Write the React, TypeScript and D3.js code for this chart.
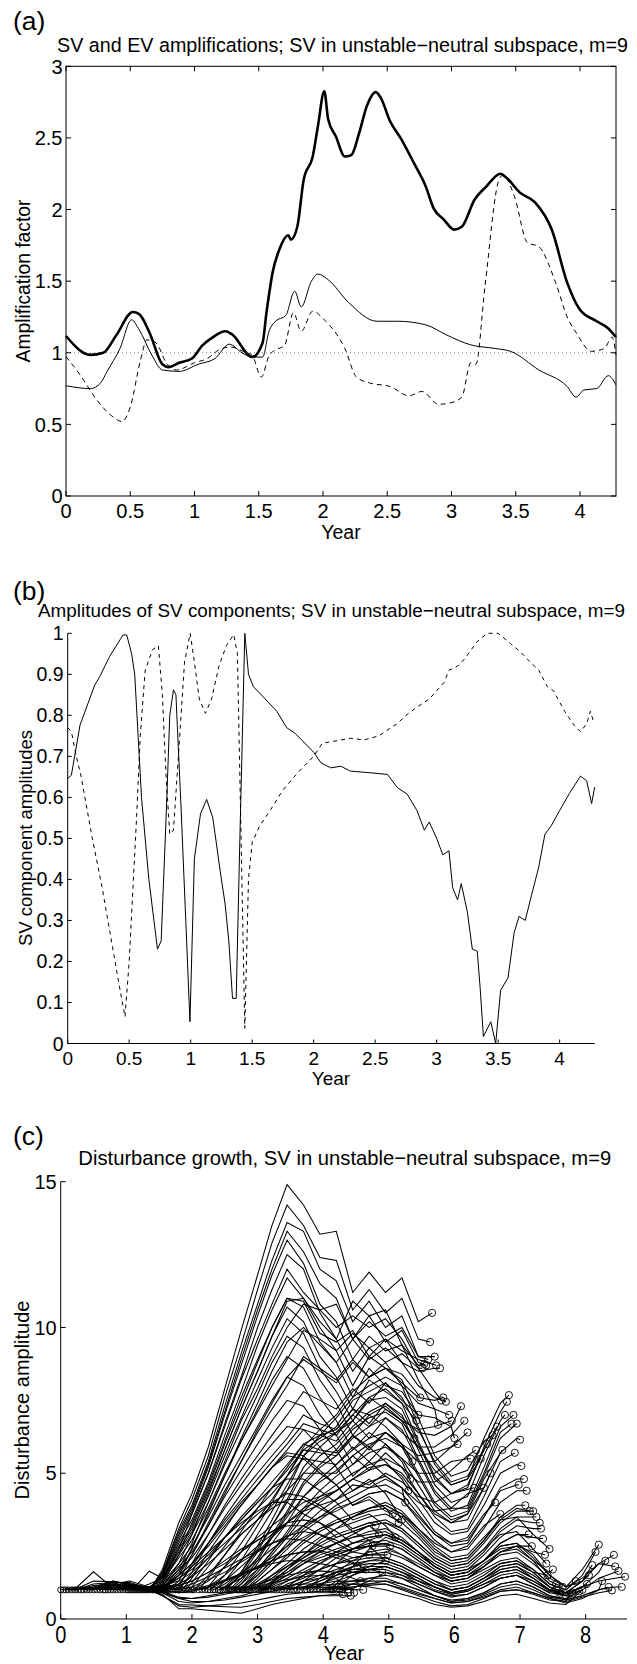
import React from 'react';
import * as d3 from 'd3';

const FONT = '"Liberation Sans", Arial, Helvetica, sans-serif';

// ---------------- Panel (a): amplification factors ----------------
const aSvX = [0, 0.19, 0.29, 0.39, 0.52, 0.57, 0.65, 0.75, 0.8, 0.88, 0.98, 1.06, 1.13, 1.24, 1.29, 1.45, 1.53, 1.56, 1.61, 1.66, 1.73, 1.75, 1.8, 1.85, 1.92, 1.96, 2.01, 2.04, 2.1, 2.17, 2.22, 2.28, 2.34, 2.41, 2.45, 2.52, 2.61, 2.71, 2.8, 2.86, 2.94, 3.02, 3.08, 3.18, 3.27, 3.38, 3.43, 3.53, 3.65, 3.78, 3.9, 4.0, 4.13, 4.22, 4.28];
const aSvY = [1.117, 0.985, 1.0, 1.12, 1.285, 1.27, 1.14, 0.92, 0.9, 0.93, 0.96, 1.05, 1.1, 1.15, 1.13, 0.97, 1.07, 1.28, 1.57, 1.72, 1.82, 1.79, 1.88, 2.21, 2.37, 2.58, 2.825, 2.63, 2.51, 2.37, 2.38, 2.53, 2.72, 2.82, 2.78, 2.62, 2.49, 2.32, 2.16, 2.01, 1.93, 1.86, 1.88, 2.07, 2.16, 2.25, 2.22, 2.12, 2.05, 1.86, 1.49, 1.3, 1.22, 1.17, 1.11];
const aEvX = [0, 0.19, 0.27, 0.32, 0.42, 0.51, 0.57, 0.67, 0.75, 0.88, 1.03, 1.16, 1.27, 1.37, 1.45, 1.53, 1.58, 1.63, 1.71, 1.78, 1.83, 1.91, 1.96, 2.04, 2.2, 2.42, 2.58, 2.8, 2.96, 3.15, 3.34, 3.46, 3.68, 3.9, 3.97, 4.03, 4.13, 4.22, 4.28];
const aEvY = [0.77, 0.75, 0.79, 0.87, 1.03, 1.23, 1.16, 0.98, 0.88, 0.87, 0.92, 0.96, 1.06, 1.0, 0.97, 0.97, 1.15, 1.22, 1.26, 1.43, 1.32, 1.5, 1.55, 1.51, 1.35, 1.22, 1.22, 1.195, 1.125, 1.055, 1.03, 1.01, 0.88, 0.764, 0.69, 0.74, 0.75, 0.84, 0.776];
const aDashX = [0, 0.11, 0.24, 0.37, 0.434, 0.5, 0.58, 0.63, 0.7, 0.78, 0.86, 1.0, 1.1, 1.19, 1.28, 1.38, 1.45, 1.52, 1.58, 1.63, 1.7, 1.77, 1.83, 1.92, 2.01, 2.17, 2.26, 2.36, 2.52, 2.67, 2.77, 2.9, 2.99, 3.08, 3.15, 3.19, 3.26, 3.37, 3.4, 3.49, 3.59, 3.68, 3.81, 3.9, 3.97, 4.09, 4.19, 4.25, 4.28];
const aDashY = [0.973, 0.845, 0.67, 0.55, 0.52, 0.62, 0.95, 1.09, 1.07, 0.93, 0.88, 0.93, 0.96, 1.02, 1.04, 1.01, 0.98, 0.83, 0.98, 1.02, 1.05, 1.28, 1.15, 1.29, 1.23, 1.03, 0.83, 0.79, 0.765, 0.7, 0.73, 0.64, 0.65, 0.69, 0.93, 0.92, 1.46, 2.21, 2.24, 2.09, 1.77, 1.74, 1.49, 1.25, 1.14, 1.01, 1.03, 1.11, 0.985];
const aXTicks = [0, 0.5, 1, 1.5, 2, 2.5, 3, 3.5, 4];
const aXLabels = ['0', '0.5', '1', '1.5', '2', '2.5', '3', '3.5', '4'];
const aYTicks = [0, 0.5, 1, 1.5, 2, 2.5, 3];
const aYLabels = ['0', '0.5', '1', '1.5', '2', '2.5', '3'];

// ---------------- Panel (b): SV component amplitudes ----------------
const bSolidX = [0, 0.03, 0.1, 0.22, 0.26, 0.34, 0.45, 0.48, 0.52, 0.545, 0.6, 0.66, 0.73, 0.76, 0.8, 0.83, 0.86, 0.88, 0.92, 0.96, 0.994, 1.03, 1.08, 1.13, 1.18, 1.24, 1.28, 1.31, 1.34, 1.37, 1.4, 1.44, 1.47, 1.51, 1.59, 1.7, 1.78, 1.85, 2.0, 2.06, 2.14, 2.22, 2.3, 2.46, 2.6, 2.68, 2.76, 2.84, 2.9, 2.94, 3.0, 3.05, 3.1, 3.13, 3.17, 3.2, 3.25, 3.29, 3.33, 3.355, 3.38, 3.44, 3.48, 3.52, 3.58, 3.63, 3.67, 3.72, 3.77, 3.83, 3.88, 3.93, 4.0, 4.08, 4.17, 4.22, 4.26, 4.285];
const bSolidY = [0.646, 0.654, 0.776, 0.874, 0.894, 0.943, 0.996, 0.996, 0.95, 0.9, 0.6, 0.4, 0.23, 0.25, 0.55, 0.8, 0.862, 0.85, 0.586, 0.3, 0.053, 0.45, 0.56, 0.595, 0.55, 0.42, 0.34, 0.25, 0.11, 0.11, 0.5, 1.0, 0.9, 0.87, 0.845, 0.81, 0.77, 0.756, 0.71, 0.684, 0.672, 0.676, 0.664, 0.66, 0.656, 0.624, 0.608, 0.568, 0.52, 0.54, 0.5, 0.46, 0.47, 0.38, 0.35, 0.39, 0.32, 0.23, 0.225, 0.13, 0.017, 0.053, 0.0, 0.13, 0.16, 0.27, 0.31, 0.3, 0.36, 0.43, 0.51, 0.53, 0.568, 0.61, 0.652, 0.64, 0.585, 0.625];
const bDashX = [0, 0.03, 0.07, 0.11, 0.2, 0.28, 0.35, 0.42, 0.466, 0.5, 0.56, 0.59, 0.63, 0.69, 0.737, 0.77, 0.8, 0.83, 0.86, 0.9, 0.95, 0.996, 1.03, 1.07, 1.12, 1.17, 1.23, 1.29, 1.35, 1.38, 1.41, 1.44, 1.47, 1.5, 1.56, 1.65, 1.75, 1.87, 2.0, 2.07, 2.3, 2.41, 2.53, 2.68, 2.75, 2.84, 2.94, 3.06, 3.1, 3.17, 3.22, 3.33, 3.41, 3.5, 3.6, 3.68, 3.76, 3.83, 3.9, 3.95, 4.04, 4.12, 4.17, 4.22, 4.25, 4.28];
const bDashY = [0.77, 0.76, 0.7, 0.65, 0.5, 0.38, 0.26, 0.14, 0.065, 0.2, 0.55, 0.75, 0.91, 0.96, 0.97, 0.85, 0.65, 0.51, 0.52, 0.7, 0.93, 1.0, 0.93, 0.84, 0.805, 0.84, 0.92, 0.97, 0.997, 0.95, 0.5, 0.037, 0.4, 0.49, 0.53, 0.57, 0.618, 0.66, 0.7, 0.732, 0.744, 0.74, 0.75, 0.78, 0.8, 0.82, 0.84, 0.88, 0.91, 0.92, 0.935, 0.98, 1.0, 1.0, 0.975, 0.955, 0.93, 0.91, 0.87, 0.86, 0.81, 0.775, 0.76, 0.78, 0.81, 0.78];
const bXTicks = [0, 0.5, 1, 1.5, 2, 2.5, 3, 3.5, 4];
const bXLabels = ['0', '0.5', '1', '1.5', '2', '2.5', '3', '3.5', '4'];
const bYTicks = [0, 0.1, 0.2, 0.3, 0.4, 0.5, 0.6, 0.7, 0.8, 0.9, 1];
const bYLabels = ['0', '0.1', '0.2', '0.3', '0.4', '0.5', '0.6', '0.7', '0.8', '0.9', '1'];

// ---------------- Panel (c): disturbance growth ----------------
// common time grid of the curves (years)
const cGridX = [0, 0.25, 0.5, 0.8, 1.05, 1.35, 1.55, 1.8, 2.0, 2.25, 2.5, 2.75, 3.0, 3.22, 3.45, 3.7, 3.95, 4.2, 4.45, 4.7, 4.95, 5.2, 5.45, 5.7, 5.95, 6.2, 6.45, 6.7, 6.95, 7.2, 7.45, 7.7, 7.95, 8.2, 8.45];
// [start year, first grid index, end year, end amplitude, amplitudes on grid]
const cLines: [number, number, number, number, number[]][] = [
  [0, 1, 4.3, 0.85, [1.1, 1.62, 1.05, 1.1, 0.95, 0.85, 0.35, 0.35, 0.3, 0.25, 0.2, 0.35, 0.5, 0.6, 0.7, 0.8, 0.85]],
  [0.04, 1, 4.34, 1.1, [1.0, 1.15, 1.2, 1.1, 0.95, 0.9, 0.7, 0.7, 0.75, 0.85, 0.95, 1.1, 1.25, 1.35, 1.45, 1.5, 1.4]],
  [0.08, 1, 4.38, 0.9, [1.05, 1.3, 1.28, 1.2, 1.0, 0.8, 0.45, 0.4, 0.45, 0.5, 0.55, 0.65, 0.75, 0.85, 0.9, 0.95, 0.95]],
  [0.12, 1, 4.42, 0.8, [1.02, 1.2, 1.25, 1.05, 1.0, 0.8, 0.5, 0.48, 0.45, 0.42, 0.4, 0.5, 0.6, 0.7, 0.75, 0.8, 0.8]],
  [0.17, 1, 4.47, 0.9, [1.0, 1.1, 1.3, 1.15, 1.0, 0.9, 0.6, 0.55, 0.6, 0.7, 0.8, 0.95, 1.05, 1.15, 1.2, 1.2, 1.1, 1.0]],
  [0.22, 1, 4.52, 1.8, [1.0, 1.05, 1.3, 1.2, 1.05, 1.0, 0.9, 0.95, 1.1, 1.3, 1.5, 1.75, 2.0, 2.2, 2.3, 2.3, 2.1, 1.9]],
  [0.27, 2, 4.57, 1.3, [1.05, 1.28, 1.2, 1.05, 0.95, 0.75, 0.7, 0.8, 0.9, 1.05, 1.2, 1.35, 1.5, 1.6, 1.65, 1.6, 1.4]],
  [0.31, 2, 4.61, 1.0, [1.05, 1.2, 1.15, 1.0, 0.95, 0.7, 0.6, 0.6, 0.65, 0.75, 0.85, 0.95, 1.05, 1.1, 1.1, 1.05, 1.0]],
  [0.35, 2, 4.65, 1.7, [1.0, 1.25, 1.25, 1.05, 1.0, 0.9, 0.95, 1.1, 1.3, 1.55, 1.8, 2.0, 2.2, 2.3, 2.35, 2.2, 1.95]],
  [0.4, 2, 4.7, 2.2, [1.02, 1.2, 1.3, 1.1, 1.05, 1.0, 1.1, 1.35, 1.6, 1.95, 2.3, 2.6, 2.85, 3.0, 2.9, 2.6, 2.3]],
  [0.45, 2, 4.75, 2.5, [1.0, 1.15, 1.2, 1.1, 1.1, 1.15, 1.3, 1.6, 1.9, 2.3, 2.7, 3.0, 3.3, 3.4, 3.3, 3.0, 2.6, 2.7]],
  [0.5, 3, 4.8, 3.2, [1.15, 1.15, 1.1, 1.15, 1.3, 1.6, 2.1, 2.6, 3.1, 3.6, 4.0, 4.3, 4.2, 3.9, 3.5, 3.1, 3.3]],
  [0.55, 3, 4.85, 2.9, [1.1, 1.15, 1.05, 1.1, 1.2, 1.45, 1.9, 2.4, 2.9, 3.4, 3.8, 4.1, 4.1, 3.8, 3.5, 3.0, 3.2]],
  [0.6, 3, 4.9, 1.6, [1.1, 1.1, 1.0, 0.95, 0.95, 1.0, 1.15, 1.35, 1.55, 1.75, 1.9, 2.0, 2.0, 1.9, 1.8, 1.6, 1.7, 1.5]],
  [0.65, 3, 4.95, 2.0, [1.05, 1.1, 1.05, 1.05, 1.15, 1.3, 1.6, 2.0, 2.4, 2.7, 3.0, 3.2, 3.2, 2.9, 2.7, 2.4, 2.5, 2.3]],
  [0.68, 3, 4.98, 2.2, [1.05, 1.05, 1.0, 1.0, 1.05, 1.2, 1.45, 1.75, 2.05, 2.35, 2.6, 2.75, 2.7, 2.5, 2.3, 2.1, 2.2]],
  [0.72, 3, 5.02, 2.5, [1.0, 1.1, 1.0, 1.1, 1.4, 1.8, 2.3, 2.8, 3.3, 3.7, 4.0, 4.0, 3.6, 3.3, 2.8, 3.0, 2.7]],
  [0.76, 4, 5.06, 3.6, [1.1, 1.0, 1.1, 1.5, 1.9, 2.5, 3.2, 3.9, 4.6, 5.2, 5.6, 5.5, 5.0, 4.6, 3.9, 4.1, 3.7]],
  [0.8, 4, 5.1, 2.8, [1.0, 0.95, 1.05, 1.4, 1.7, 2.2, 2.8, 3.4, 4.0, 4.5, 4.8, 4.8, 4.4, 4.0, 3.4, 3.6, 3.2]],
  [0.85, 4, 5.15, 3.3, [1.0, 1.0, 1.1, 1.5, 1.9, 2.6, 3.3, 4.0, 4.6, 5.2, 5.7, 5.6, 5.1, 4.6, 3.9, 4.2, 3.8]],
  [0.9, 4, 5.2, 3.4, [1.1, 1.0, 1.15, 1.7, 2.1, 2.9, 3.8, 4.6, 5.4, 6.0, 6.6, 6.5, 5.9, 5.2, 4.4, 4.8, 4.3]],
  [0.95, 4, 5.25, 4.0, [1.05, 1.0, 1.2, 1.8, 2.3, 3.2, 4.2, 5.1, 6.0, 6.8, 7.5, 7.3, 6.5, 5.8, 4.9, 5.4, 4.9, 4.5]],
  [1.0, 4, 5.3, 4.4, [1.0, 1.05, 1.25, 1.9, 2.5, 3.5, 4.6, 5.6, 6.6, 7.5, 8.3, 8.0, 7.0, 6.3, 5.3, 5.9, 5.4, 4.8]],
  [1.03, 4, 5.33, 4.8, [1.0, 1.1, 1.3, 2.1, 2.7, 3.8, 5.0, 6.1, 7.2, 8.2, 9.0, 8.6, 7.6, 6.8, 5.8, 6.4, 6.0, 5.4]],
  [1.06, 5, 5.36, 5.4, [1.1, 1.35, 2.2, 2.9, 4.0, 5.3, 6.5, 7.7, 8.8, 9.7, 9.3, 8.2, 7.4, 6.3, 7.0, 6.6, 6.0]],
  [1.09, 5, 5.39, 6.2, [1.64, 1.4, 2.3, 3.0, 4.2, 5.6, 6.9, 8.2, 9.3, 10.3, 9.8, 8.6, 7.8, 6.8, 7.6, 7.2, 6.8]],
  [1.12, 5, 5.42, 6.8, [1.2, 1.4, 2.4, 3.1, 4.4, 5.8, 7.2, 8.5, 9.7, 10.7, 10.2, 9.0, 8.3, 7.2, 8.2, 7.8, 7.4]],
  [1.15, 5, 5.45, 7.0, [1.1, 1.4, 2.5, 3.2, 4.5, 6.0, 7.4, 8.8, 10.0, 11.0, 10.7, 9.5, 8.8, 7.6, 8.6, 8.0, 7.8]],
  [1.18, 5, 5.48, 7.6, [1.05, 1.45, 2.6, 3.4, 4.7, 6.3, 7.8, 9.4, 10.6, 11.7, 11.0, 10.0, 9.2, 8.0, 9.0, 8.6, 8.4, 7.7]],
  [1.21, 5, 5.51, 8.6, [1.05, 1.5, 2.7, 3.6, 5.0, 6.7, 8.3, 10.0, 11.3, 12.5, 12.0, 10.5, 9.6, 8.5, 9.3, 8.8, 9.1, 8.6]],
  [1.24, 5, 5.54, 8.75, [1.0, 1.5, 2.8, 3.7, 5.2, 7.0, 8.7, 10.4, 11.8, 13.0, 12.2, 10.8, 10.2, 8.9, 9.7, 9.2, 9.4, 8.7]],
  [1.27, 5, 5.57, 8.7, [1.0, 1.55, 2.9, 3.8, 5.3, 7.1, 8.9, 10.6, 12.0, 13.3, 12.6, 11.5, 11.0, 9.6, 10.4, 9.5, 9.9, 8.8]],
  [1.3, 5, 5.6, 8.9, [1.0, 1.6, 3.0, 3.9, 5.4, 7.3, 9.1, 10.8, 12.3, 13.6, 13.3, 12.0, 11.6, 10.2, 10.9, 10.0, 10.4, 9.0]],
  [1.33, 5, 5.63, 9.5, [1.0, 1.6, 3.1, 4.1, 5.6, 7.6, 9.4, 11.3, 12.9, 14.2, 13.5, 12.4, 12.3, 10.6, 11.3, 10.5, 11.0, 9.6]],
  [1.36, 6, 5.66, 10.5, [1.7, 3.3, 4.3, 5.9, 7.9, 9.9, 11.8, 13.5, 14.9, 14.2, 13.2, 13.3, 11.2, 11.9, 11.2, 11.7, 10.2]],
  [1.4, 6, 5.7, 9.0, [1.3, 2.4, 3.6, 5.0, 6.6, 8.2, 9.6, 10.8, 12.0, 11.2, 10.6, 10.8, 9.6, 10.2, 9.7, 10.0, 9.0]],
  [1.42, 6, 5.72, 8.7, [1.2, 2.2, 3.3, 4.6, 6.1, 7.6, 8.9, 10.0, 11.0, 10.9, 9.8, 9.5, 9.9, 9.0, 9.6, 9.2, 8.9]],
  [1.45, 6, 5.75, 6.66, [1.1, 1.9, 2.9, 4.3, 5.8, 7.2, 8.5, 9.7, 10.9, 11.0, 10.2, 9.6, 10.9, 10.4, 10.6, 9.4, 8.2, 7.2]],
  [1.48, 6, 5.78, 8.6, [1.05, 1.6, 2.4, 3.6, 4.9, 6.2, 7.4, 8.5, 9.5, 10.0, 9.4, 8.8, 9.6, 8.9, 9.3, 8.8, 8.5, 8.6]],
  [1.5, 6, 5.8, 7.5, [1.05, 1.7, 2.6, 4.0, 5.4, 6.8, 7.9, 9.0, 10.0, 10.8, 10.6, 10.0, 10.4, 10.0, 10.3, 9.6, 8.6, 7.8]],
  [1.53, 6, 5.83, 7.6, [1.02, 1.5, 2.2, 3.2, 4.3, 5.4, 6.5, 7.4, 8.3, 8.9, 8.5, 8.1, 8.8, 8.3, 8.6, 8.1, 7.6, 7.5]],
  [1.57, 7, 5.87, 7.45, [1.5, 2.4, 3.7, 4.9, 6.1, 7.1, 8.0, 8.9, 9.9, 9.6, 9.2, 9.8, 9.3, 9.6, 8.8, 8.0, 7.6]],
  [1.62, 7, 5.92, 7.0, [1.3, 2.2, 3.3, 4.4, 5.4, 6.4, 7.2, 8.0, 9.0, 8.6, 8.2, 8.9, 8.3, 8.8, 8.0, 7.4, 7.2]],
  [1.66, 7, 5.96, 6.8, [1.2, 1.8, 2.6, 3.4, 4.1, 4.8, 5.4, 6.0, 6.7, 6.5, 6.3, 7.0, 6.6, 7.2, 6.8, 6.5, 6.6]],
  [1.7, 7, 6.0, 6.2, [1.1, 1.9, 2.9, 3.9, 4.8, 5.6, 6.3, 7.0, 7.8, 7.5, 7.2, 7.9, 7.4, 8.1, 7.5, 7.0, 6.9, 6.6]],
  [1.75, 7, 6.05, 6.0, [1.05, 1.5, 2.1, 2.8, 3.4, 4.0, 4.5, 5.1, 5.8, 5.7, 5.6, 6.3, 5.9, 6.4, 6.0, 5.6, 5.7, 5.9]],
  [1.8, 8, 6.1, 7.3, [1.6, 2.6, 3.5, 4.3, 5.0, 5.6, 6.2, 7.0, 6.7, 6.5, 7.2, 6.7, 7.4, 6.9, 6.4, 6.3, 6.6]],
  [1.85, 8, 6.15, 6.8, [1.4, 2.3, 3.1, 3.9, 4.6, 5.2, 5.8, 6.5, 6.3, 6.1, 6.8, 6.2, 6.9, 6.4, 5.9, 5.9, 6.3]],
  [1.9, 8, 6.2, 6.4, [1.25, 2.0, 2.8, 3.5, 4.1, 4.7, 5.3, 6.0, 5.8, 5.7, 6.3, 5.8, 6.4, 5.9, 5.4, 5.4, 5.9]],
  [1.95, 8, 6.25, 5.5, [1.1, 1.8, 2.5, 3.2, 3.8, 4.3, 4.9, 5.5, 5.4, 5.3, 5.9, 5.4, 6.0, 5.5, 5.0, 5.0, 5.4, 5.5]],
  [2.0, 9, 6.3, 4.5, [1.3, 1.8, 2.3, 2.8, 3.2, 3.6, 4.0, 4.2, 4.4, 4.8, 4.6, 5.0, 4.7, 4.2, 4.0, 4.3]],
  [2.03, 9, 6.33, 5.8, [1.5, 2.2, 2.9, 3.4, 3.9, 4.4, 5.0, 5.0, 5.0, 5.6, 5.1, 5.7, 5.2, 4.7, 4.7, 5.1, 5.6]],
  [2.1, 9, 6.4, 5.5, [1.4, 2.2, 3.0, 3.8, 4.5, 5.2, 6.0, 6.3, 6.5, 7.2, 7.0, 7.3, 6.8, 5.9, 5.1, 4.6, 4.8]],
  [2.15, 9, 6.45, 4.5, [1.1, 1.5, 2.0, 2.5, 2.9, 3.3, 3.7, 3.9, 4.1, 4.6, 4.5, 4.8, 4.5, 4.0, 3.7, 3.8, 4.3]],
  [2.2, 9, 6.5, 6.0, [1.1, 1.8, 2.6, 3.4, 4.1, 4.9, 5.8, 6.2, 6.6, 7.5, 7.8, 8.1, 7.6, 6.5, 5.4, 4.7, 4.9, 5.8]],
  [2.25, 10, 6.55, 5.0, [1.3, 1.8, 2.3, 2.8, 3.3, 3.8, 4.1, 4.4, 4.8, 5.2, 5.3, 5.0, 4.3, 3.6, 3.3, 3.6, 4.5]],
  [2.28, 9, 6.58, 6.3, [1.05, 1.5, 2.3, 3.2, 4.0, 4.9, 5.9, 6.5, 7.0, 7.8, 8.3, 8.6, 8.2, 6.9, 5.6, 4.9, 5.1, 6.1]],
  [2.32, 10, 6.62, 4.0, [1.2, 1.6, 2.0, 2.4, 2.8, 3.2, 3.5, 3.7, 4.0, 4.3, 4.4, 4.1, 3.5, 2.9, 2.6, 2.8, 3.6]],
  [2.35, 10, 6.65, 6.6, [1.3, 2.0, 2.9, 3.7, 4.6, 5.6, 6.1, 6.4, 6.8, 7.5, 7.6, 7.2, 6.0, 4.8, 4.3, 4.6, 5.8]],
  [2.4, 10, 6.7, 3.6, [1.1, 1.4, 1.8, 2.1, 2.5, 2.8, 3.1, 3.3, 3.5, 3.8, 3.9, 3.6, 3.1, 2.6, 2.3, 2.5, 3.2]],
  [2.43, 10, 6.73, 5.8, [1.05, 1.5, 2.1, 2.8, 3.5, 4.2, 4.7, 5.1, 5.6, 6.0, 6.2, 5.9, 4.9, 3.9, 3.4, 3.6, 4.8]],
  [2.47, 10, 6.77, 7.0, [1.1, 1.6, 2.4, 3.2, 4.0, 5.0, 5.6, 6.0, 6.6, 7.1, 7.4, 7.0, 5.8, 4.6, 4.0, 4.2, 5.6, 6.8]],
  [2.5, 11, 6.8, 7.45, [1.5, 2.3, 3.2, 4.1, 5.2, 5.9, 6.4, 7.0, 7.6, 7.9, 7.4, 6.1, 4.9, 4.3, 4.5, 5.9, 7.1]],
  [2.53, 11, 6.83, 7.68, [1.6, 2.5, 3.4, 4.4, 5.6, 6.3, 6.9, 7.6, 8.0, 8.3, 8.0, 6.6, 5.3, 4.6, 4.8, 6.2, 7.4]],
  [2.57, 11, 6.87, 6.7, [1.4, 2.1, 2.9, 3.7, 4.7, 5.3, 5.8, 6.5, 6.9, 7.1, 6.7, 5.5, 4.4, 3.8, 3.8, 5.0, 6.4]],
  [2.6, 11, 6.9, 7.0, [1.3, 2.0, 2.8, 3.6, 4.6, 5.2, 5.6, 6.2, 6.6, 6.9, 6.5, 5.4, 4.3, 3.7, 3.9, 5.2, 6.6]],
  [2.62, 11, 6.92, 5.7, [1.2, 1.7, 2.3, 2.9, 3.7, 4.2, 4.6, 5.0, 5.3, 5.5, 5.2, 4.3, 3.5, 3.0, 3.1, 4.2, 5.4]],
  [2.65, 11, 6.95, 6.7, [1.2, 1.9, 2.6, 3.3, 4.2, 4.8, 5.3, 5.8, 6.2, 6.4, 6.0, 5.0, 4.0, 3.5, 3.7, 4.9, 6.2]],
  [2.68, 11, 6.98, 4.6, [1.1, 1.5, 2.0, 2.5, 3.1, 3.5, 3.9, 4.2, 4.5, 4.6, 4.3, 3.6, 2.9, 2.5, 2.6, 3.5, 4.4, 4.6]],
  [2.7, 11, 7.0, 6.15, [1.05, 1.7, 2.3, 3.0, 3.8, 4.4, 4.9, 5.3, 5.7, 5.9, 5.5, 4.6, 3.7, 3.3, 3.4, 4.5, 5.7, 6.2]],
  [2.72, 11, 7.02, 5.25, [1.02, 1.6, 2.2, 2.8, 3.5, 4.0, 4.4, 4.8, 5.1, 5.3, 4.9, 4.1, 3.3, 2.9, 3.0, 3.9, 5.0, 5.3]],
  [2.76, 12, 7.06, 4.8, [1.5, 2.0, 2.6, 3.2, 3.7, 4.1, 4.4, 4.7, 4.9, 4.5, 3.8, 3.0, 2.6, 2.7, 3.5, 4.5, 4.8]],
  [2.78, 12, 7.08, 3.9, [1.3, 1.7, 2.1, 2.6, 3.0, 3.3, 3.5, 3.7, 3.8, 3.5, 2.9, 2.3, 2.0, 2.1, 2.7, 3.5, 3.9]],
  [2.8, 12, 7.1, 4.4, [1.4, 1.9, 2.4, 3.0, 3.4, 3.8, 4.0, 4.3, 4.4, 4.1, 3.4, 2.7, 2.3, 2.4, 3.1, 4.0, 4.4]],
  [2.83, 12, 7.13, 2.9, [1.2, 1.5, 1.8, 2.1, 2.4, 2.6, 2.8, 2.9, 3.0, 2.7, 2.3, 1.8, 1.5, 1.6, 2.0, 2.6, 2.9]],
  [2.85, 12, 7.15, 3.7, [1.3, 1.7, 2.2, 2.7, 3.1, 3.4, 3.6, 3.8, 3.9, 3.6, 3.0, 2.4, 2.0, 2.1, 2.7, 3.4, 3.8]],
  [2.88, 12, 7.18, 2.5, [1.15, 1.4, 1.6, 1.9, 2.1, 2.3, 2.4, 2.5, 2.6, 2.4, 2.0, 1.6, 1.3, 1.4, 1.8, 2.3, 2.5]],
  [2.9, 12, 7.2, 3.7, [1.1, 1.5, 1.9, 2.4, 2.8, 3.1, 3.3, 3.5, 3.6, 3.3, 2.8, 2.2, 1.9, 2.0, 2.6, 3.3, 3.7]],
  [2.95, 12, 7.25, 3.5, [1.05, 1.4, 1.8, 2.2, 2.6, 2.9, 3.1, 3.3, 3.4, 3.1, 2.6, 2.1, 1.8, 1.9, 2.4, 3.1, 3.5, 3.5]],
  [3.0, 13, 7.3, 3.3, [1.3, 1.7, 2.1, 2.5, 2.8, 3.0, 3.2, 3.3, 3.0, 2.5, 2.0, 1.7, 1.8, 2.3, 3.0, 3.4, 3.3]],
  [3.02, 13, 7.32, 3.1, [1.25, 1.6, 2.0, 2.3, 2.6, 2.8, 3.0, 3.1, 2.8, 2.3, 1.9, 1.6, 1.7, 2.2, 2.8, 3.2, 3.1]],
  [3.05, 13, 7.35, 2.75, [1.2, 1.5, 1.9, 2.2, 2.4, 2.6, 2.8, 2.9, 2.6, 2.2, 1.8, 1.5, 1.6, 2.0, 2.6, 2.9, 2.8]],
  [3.08, 13, 7.38, 2.2, [1.15, 1.4, 1.7, 2.0, 2.2, 2.4, 2.5, 2.6, 2.4, 2.0, 1.6, 1.3, 1.4, 1.8, 2.3, 2.5, 2.3]],
  [3.1, 13, 7.4, 1.9, [1.2, 1.5, 1.9, 2.3, 2.6, 2.9, 3.2, 3.3, 3.1, 2.6, 2.1, 1.8, 1.9, 2.4, 2.9, 3.0, 2.4]],
  [3.12, 13, 7.42, 1.5, [1.1, 1.3, 1.5, 1.7, 1.9, 2.0, 2.1, 2.1, 1.9, 1.6, 1.3, 1.0, 1.1, 1.4, 1.8, 1.9, 1.6]],
  [3.15, 13, 7.45, 2.4, [1.25, 1.7, 2.2, 2.7, 3.1, 3.5, 3.8, 4.0, 3.7, 3.1, 2.5, 2.1, 2.2, 2.8, 3.4, 3.5, 2.9]],
  [3.2, 13, 7.5, 1.7, [1.0, 1.3, 1.6, 1.9, 2.2, 2.4, 2.6, 2.7, 2.5, 2.1, 1.7, 1.4, 1.5, 1.9, 2.3, 2.4, 2.0, 1.6]],
  [3.25, 14, 7.55, 1.2, [1.1, 1.3, 1.4, 1.6, 1.7, 1.7, 1.8, 1.6, 1.4, 1.1, 0.85, 0.95, 1.2, 1.4, 1.5, 1.2, 0.9]],
  [3.3, 14, 7.6, 0.9, [1.2, 1.4, 1.7, 1.9, 2.1, 2.2, 2.3, 2.1, 1.8, 1.5, 1.2, 1.3, 1.6, 1.9, 2.0, 1.6, 1.1]],
  [3.35, 14, 7.65, 1.1, [1.1, 1.5, 1.9, 2.3, 2.6, 2.8, 2.9, 2.7, 2.3, 1.8, 1.5, 1.6, 2.0, 2.4, 2.5, 2.0, 1.3]],
  [3.4, 14, 7.7, 0.8, [1.05, 1.3, 1.5, 1.7, 1.9, 2.0, 2.0, 1.8, 1.5, 1.2, 1.0, 1.1, 1.4, 1.7, 1.8, 1.4, 1.0]],
  [3.45, 15, 7.75, 0.85, [1.1, 1.2, 1.3, 1.3, 1.3, 1.3, 1.1, 0.9, 0.7, 0.55, 0.6, 0.75, 0.95, 1.0, 0.85, 0.65, 0.6]],
  [3.5, 15, 7.8, 0.9, [1.2, 1.4, 1.6, 1.7, 1.8, 1.8, 1.6, 1.3, 1.0, 0.85, 0.95, 1.2, 1.5, 1.6, 1.3, 0.95, 0.8]],
  [3.55, 15, 7.85, 1.3, [1.3, 1.7, 2.1, 2.3, 2.5, 2.5, 2.2, 1.8, 1.5, 1.3, 1.4, 1.7, 2.0, 2.1, 1.7, 1.2, 1.0]],
  [3.6, 15, 7.9, 0.95, [1.1, 1.3, 1.5, 1.6, 1.6, 1.6, 1.4, 1.1, 0.8, 0.6, 0.7, 0.9, 1.2, 1.3, 1.1, 0.8, 0.7]],
  [3.65, 15, 7.95, 1.0, [1.05, 1.15, 1.2, 1.2, 1.1, 1.0, 0.85, 0.7, 0.5, 0.4, 0.45, 0.6, 0.8, 0.85, 0.7, 0.55, 0.5]],
  [3.72, 16, 8.02, 1.2, [1.3, 1.6, 1.8, 1.9, 1.9, 1.7, 1.4, 1.1, 0.9, 1.0, 1.3, 1.6, 1.7, 1.4, 1.0, 0.85, 1.1]],
  [3.75, 16, 8.05, 1.5, [1.4, 1.9, 2.4, 2.7, 2.9, 2.7, 2.3, 1.9, 1.6, 1.7, 2.0, 2.5, 2.6, 2.1, 1.5, 1.1, 1.3]],
  [3.8, 16, 8.1, 1.85, [1.2, 1.4, 1.6, 1.7, 1.7, 1.5, 1.2, 0.95, 0.75, 0.85, 1.1, 1.4, 1.5, 1.3, 1.0, 0.9, 1.3]],
  [3.85, 16, 8.15, 2.3, [1.15, 1.5, 1.8, 2.0, 2.1, 1.9, 1.6, 1.3, 1.1, 1.2, 1.5, 1.9, 2.0, 1.7, 1.2, 1.0, 1.5]],
  [3.9, 16, 8.2, 2.55, [1.1, 1.6, 2.0, 2.3, 2.4, 2.2, 1.9, 1.6, 1.4, 1.5, 1.8, 2.2, 2.3, 1.9, 1.4, 1.1, 1.7]],
  [3.95, 17, 8.25, 1.3, [1.05, 1.1, 1.15, 1.2, 1.05, 0.85, 0.7, 0.55, 0.6, 0.8, 1.0, 1.1, 0.9, 0.7, 0.55, 0.7, 1.0]],
  [4.0, 17, 8.3, 2.0, [1.3, 1.5, 1.7, 1.8, 1.6, 1.3, 1.1, 0.9, 1.0, 1.3, 1.6, 1.7, 1.4, 1.0, 0.8, 1.1, 1.6]],
  [4.05, 17, 8.35, 1.1, [1.2, 1.3, 1.4, 1.4, 1.2, 1.0, 0.8, 0.65, 0.7, 0.9, 1.2, 1.3, 1.1, 0.8, 0.65, 0.8, 1.0]],
  [4.1, 17, 8.4, 0.98, [1.1, 1.2, 1.2, 1.2, 1.0, 0.8, 0.6, 0.45, 0.5, 0.7, 0.95, 1.0, 0.9, 0.7, 0.6, 0.75, 0.9]],
  [4.13, 17, 8.43, 2.2, [1.1, 1.5, 1.8, 2.0, 1.8, 1.5, 1.2, 1.0, 1.1, 1.4, 1.8, 1.9, 1.6, 1.1, 0.9, 1.3, 1.9]],
  [4.15, 17, 8.45, 1.8, [1.2, 1.8, 2.4, 2.8, 2.6, 2.2, 1.8, 1.5, 1.6, 2.0, 2.5, 2.6, 2.2, 1.5, 1.1, 1.4, 1.9]],
  [4.2, 18, 8.5, 1.65, [1.2, 1.4, 1.5, 1.4, 1.2, 0.95, 0.8, 0.85, 1.1, 1.4, 1.5, 1.2, 0.9, 0.8, 1.0, 1.4, 1.6]],
  [4.25, 18, 8.55, 1.1, [1.1, 1.2, 1.3, 1.2, 1.0, 0.8, 0.6, 0.65, 0.85, 1.1, 1.2, 1.0, 0.75, 0.65, 0.8, 1.0, 1.1]],
  [4.3, 18, 8.6, 1.45, [1.05, 1.3, 1.6, 1.5, 1.3, 1.1, 0.9, 1.0, 1.3, 1.7, 1.8, 1.5, 1.1, 0.9, 1.1, 1.3, 1.4]],
];
const cXTicks = [0, 1, 2, 3, 4, 5, 6, 7, 8];
const cXLabels = ['0', '1', '2', '3', '4', '5', '6', '7', '8'];
const cYTicks = [0, 5, 10, 15];
const cYLabels = ['0', '5', '10', '15'];

// ---------------- Scales ----------------
const ax = d3.scaleLinear().domain([0, 4.28]).range([66, 616]);
const ay = d3.scaleLinear().domain([0, 3]).range([496, 66.3]);
const bx = d3.scaleLinear().domain([0, 4.285]).range([67.7, 594.7]);
const by = d3.scaleLinear().domain([0, 1]).range([1043.5, 633.3]);
const cx = d3.scaleLinear().domain([0, 8.63]).range([60.7, 627]);
const cy = d3.scaleLinear().domain([0, 15]).range([1619, 1181.7]);

function pathOf(xs: number[], ys: number[], sx: any, sy: any, curve: any = d3.curveLinear) {
  const gen = d3.line<[number, number]>().x((d) => sx(d[0])).y((d) => sy(d[1])).curve(curve);
  return gen(xs.map((x, i) => [x, ys[i]] as [number, number])) || '';
}

function cLinePoints(l: [number, number, number, number, number[]]): [number, number][] {
  const [t0, i0, t1, y1, vals] = l;
  const pts: [number, number][] = [[t0, 1]];
  vals.forEach((v, j) => {
    const gx = cGridX[i0 + j];
    if (gx !== undefined && gx > t0 && gx < t1) pts.push([gx, v]);
  });
  pts.push([t1, y1]);
  return pts;
}

const TXT = { fontFamily: FONT, fill: '#000' } as const;

export default function App() {
  const cGen = d3.line<[number, number]>().x((d) => cx(d[0])).y((d) => cy(d[1]));
  const A = { l: 66, r: 616, t: 66.3, b: 496 };
  const B = { l: 67.7, r: 594.7, t: 633.3, b: 1043.5 };
  const C = { l: 60.7, r: 627, t: 1181.7, b: 1619 };
  return (
    <svg width={637} height={1664} style={{ position: 'absolute', left: 0, top: 0, background: '#fff' }}>
      <rect x={0} y={0} width={637} height={1664} fill="#fff" />
      {/* ===== Panel (a) ===== */}
      <g>
        <text x={13} y={29.5} fontSize={26.5} {...TXT}>(a)</text>
        <text x={57} y={51.5} fontSize={19.7} textLength={571} lengthAdjust="spacingAndGlyphs" {...TXT}>
          SV and EV amplifications; SV in unstable−neutral subspace, m=9
        </text>
        <line x1={ax(0)} x2={ax(4.28)} y1={ay(1)} y2={ay(1)} stroke="#777" strokeWidth={1} strokeDasharray="1,3" />
        <path d={pathOf(aDashX, aDashY, ax, ay, d3.curveMonotoneX)} fill="none" stroke="#000" strokeWidth={1} strokeDasharray="5,4" />
        <path d={pathOf(aEvX, aEvY, ax, ay, d3.curveMonotoneX)} fill="none" stroke="#000" strokeWidth={1} />
        <path d={pathOf(aSvX, aSvY, ax, ay, d3.curveMonotoneX)} fill="none" stroke="#000" strokeWidth={2.6} strokeLinejoin="round" />
        <rect x={A.l} y={A.t} width={A.r - A.l} height={A.b - A.t} fill="none" stroke="#000" strokeWidth={1} />
        {aXTicks.map((t, i) => (
          <g key={'ax' + i}>
            <line x1={ax(t)} x2={ax(t)} y1={A.b} y2={A.b - 5} stroke="#000" />
            <line x1={ax(t)} x2={ax(t)} y1={A.t} y2={A.t + 5} stroke="#000" />
            <text x={ax(t)} y={517.8} fontSize={20} textAnchor="middle" {...TXT}>{aXLabels[i]}</text>
          </g>
        ))}
        {aYTicks.map((t, i) => (
          <g key={'ay' + i}>
            <line x1={A.l} x2={A.l + 5} y1={ay(t)} y2={ay(t)} stroke="#000" />
            <line x1={A.r} x2={A.r - 5} y1={ay(t)} y2={ay(t)} stroke="#000" />
            <text x={62.5} y={ay(t) + 7.2} fontSize={20} textAnchor="end" {...TXT}>{aYLabels[i]}</text>
          </g>
        ))}
        <text x={341} y={538.5} fontSize={19.5} textAnchor="middle" {...TXT}>Year</text>
        <text transform={`translate(30,281) rotate(-90)`} fontSize={19.3} textAnchor="middle" {...TXT}>Amplification factor</text>
      </g>

      {/* ===== Panel (b) ===== */}
      <g>
        <text x={13} y={599.5} fontSize={26.5} {...TXT}>(b)</text>
        <text x={38} y={616.7} fontSize={18.9} textLength={587} lengthAdjust="spacingAndGlyphs" {...TXT}>
          Amplitudes of SV components; SV in unstable−neutral subspace, m=9
        </text>
        <path d={pathOf(bDashX, bDashY, bx, by)} fill="none" stroke="#000" strokeWidth={1} strokeDasharray="4,4" />
        <path d={pathOf(bSolidX, bSolidY, bx, by)} fill="none" stroke="#000" strokeWidth={1} />
        <line x1={B.l} x2={B.l} y1={B.t} y2={B.b} stroke="#000" />
        <line x1={B.l} x2={B.r} y1={B.b} y2={B.b} stroke="#000" />
        {bXTicks.map((t, i) => (
          <g key={'bx' + i}>
            <line x1={bx(t)} x2={bx(t)} y1={B.b} y2={B.b - 4} stroke="#000" />
            <text x={bx(t)} y={1065} fontSize={19} textAnchor="middle" {...TXT}>{bXLabels[i]}</text>
          </g>
        ))}
        {bYTicks.map((t, i) => (
          <g key={'by' + i}>
            <line x1={B.l} x2={B.l + 4} y1={by(t)} y2={by(t)} stroke="#000" />
            <text x={63.5} y={by(t) + 7} fontSize={19.5} textAnchor="end" {...TXT}>{bYLabels[i]}</text>
          </g>
        ))}
        <text x={331} y={1085} fontSize={19} textAnchor="middle" {...TXT}>Year</text>
        <text transform={`translate(32,838) rotate(-90)`} fontSize={18.5} textAnchor="middle" {...TXT}>SV component amplitudes</text>
      </g>

      {/* ===== Panel (c) ===== */}
      <g>
        <text x={13} y={1145} fontSize={26.5} {...TXT}>(c)</text>
        <text x={78.3} y={1165} fontSize={20.2} textLength={533} lengthAdjust="spacingAndGlyphs" {...TXT}>
          Disturbance growth, SV in unstable−neutral subspace, m=9
        </text>
        {cLines.map((l, i) => (
          <path key={'cl' + i} d={cGen(cLinePoints(l)) || ''} fill="none" stroke="#000" strokeWidth={1.05} />
        ))}
        {cLines.map((l, i) => (
          <g key={'cc' + i}>
            <circle cx={cx(l[0])} cy={cy(1)} r={3} fill="none" stroke="#000" strokeWidth={0.9} />
            <circle cx={cx(l[2])} cy={cy(l[3])} r={3.6} fill="none" stroke="#000" strokeWidth={0.9} />
          </g>
        ))}
        <line x1={C.l} x2={C.l} y1={C.t} y2={C.b} stroke="#000" />
        <line x1={C.l} x2={C.r} y1={C.b} y2={C.b} stroke="#000" />
        {cXTicks.map((t, i) => (
          <g key={'cx' + i}>
            <line x1={cx(t)} x2={cx(t)} y1={C.b} y2={C.b - 5} stroke="#000" />
            <text transform={`translate(${cx(t)},1642.7) scale(1,1.15)`} fontSize={20} textAnchor="middle" {...TXT}>{cXLabels[i]}</text>
          </g>
        ))}
        {cYTicks.map((t, i) => (
          <g key={'cy' + i}>
            <line x1={C.l} x2={C.l + 5} y1={cy(t)} y2={cy(t)} stroke="#000" />
            <text x={56.7} y={cy(t) + 7.2} fontSize={20} textAnchor="end" {...TXT}>{cYLabels[i]}</text>
          </g>
        ))}
        <text x={344} y={1660} fontSize={20} textAnchor="middle" {...TXT}>Year</text>
        <text transform={`translate(28.5,1400) rotate(-90)`} fontSize={20} textAnchor="middle" {...TXT}>Disturbance amplitude</text>
      </g>
    </svg>
  );
}
